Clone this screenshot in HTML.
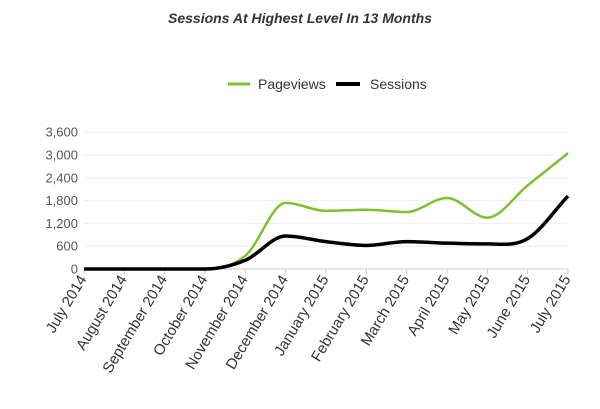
<!DOCTYPE html>
<html><head><meta charset="utf-8"><style>
body{margin:0;background:#fff;width:600px;height:404px;overflow:hidden;font-family:"Liberation Sans",sans-serif}
</style></head><body>
<svg id="s" width="600" height="404" xmlns="http://www.w3.org/2000/svg" font-family="Liberation Sans, sans-serif">
<text x="300" y="23" text-anchor="middle" font-size="14" font-weight="bold" font-style="italic" fill="#333">Sessions At Highest Level In 13 Months</text>
<line x1="228" y1="84" x2="250" y2="84" stroke="#7cc22e" stroke-width="3"/>
<text x="258" y="89" font-size="14" fill="#333">Pageviews</text>
<line x1="336" y1="84" x2="360" y2="84" stroke="#000" stroke-width="4"/>
<text x="370" y="89" font-size="14" fill="#333">Sessions</text>
<g id="g"></g>
</svg>
<script>
var g=document.getElementById('g'),h='';
var x0=84,x1=568,y0=269,k=22.8/600;
for(var i=0;i<=6;i++){var y=y0-i*600*k;h+='<line x1="84" x2="568" y1="'+y+'" y2="'+y+'" stroke="'+(i?'#eee':'#ccc')+'"/>';
h+='<text x="78" y="'+(y+4.5)+'" text-anchor="end" font-size="13" fill="#555">'+(i*600).toLocaleString('en-US')+'</text>';}
var L=['July 2014','August 2014','September 2014','October 2014','November 2014','December 2014','January 2015','February 2015','March 2015','April 2015','May 2015','June 2015','July 2015'];
var st=(x1-x0)/12;
L.forEach(function(t,i){var x=x0+i*st;h+='<line x1="'+x+'" x2="'+x+'" y1="269" y2="274" stroke="#ccc"/>';
h+='<text transform="translate('+(x+3)+',279) rotate(-59)" text-anchor="end" font-size="15" fill="#333">'+t+'</text>';});
function path(v){var p=v.map(function(a,i){return [x0+i*st,y0-a*k]});var n=p.length,m=[];
var d=[];for(var i=0;i<n-1;i++)d.push((p[i+1][1]-p[i][1])/st);
for(var i=0;i<n;i++){if(i==0)m.push(d[0]);else if(i==n-1)m.push(d[n-2]);else m.push(d[i-1]*d[i]<=0?0:(d[i-1]+d[i])/2);}
var s='M'+p[0][0]+','+p[0][1];
for(var i=0;i<n-1;i++){s+=' C'+(p[i][0]+st/3)+','+(p[i][1]+m[i]*st/3)+' '+(p[i+1][0]-st/3)+','+(p[i+1][1]-m[i+1]*st/3)+' '+p[i+1][0]+','+p[i+1][1];}
return s;}
h+='<path d="'+path([0,0,0,0,350,1740,1530,1560,1500,1870,1350,2200,3050])+'" fill="none" stroke="#7cc22e" stroke-width="2.5"/>';
h+='<path d="'+path([0,0,0,0,230,870,720,620,720,680,660,800,1920])+'" fill="none" stroke="#000" stroke-width="3.5"/>';
g.innerHTML=h;
</script>
</body></html>
